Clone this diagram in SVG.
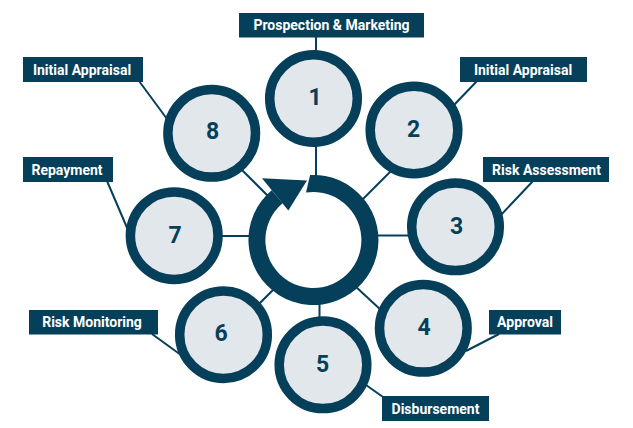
<svg xmlns="http://www.w3.org/2000/svg" width="633" height="428" viewBox="0 0 633 428">
<style>
.ln{stroke:#053f5a;stroke-width:2;fill:none}
.c{fill:#e2e7eb;stroke:#053f5a;stroke-width:9.5}
.n{font-family:Roboto,"Liberation Sans",sans-serif;font-weight:700;font-size:23px;fill:#053f5a;text-anchor:middle}
.lb{fill:#053f5a}
.lt{font-family:Roboto,"Liberation Sans",sans-serif;font-weight:700;font-size:14px;fill:#ffffff;text-anchor:middle}
</style>
<rect width="633" height="428" fill="#ffffff"/>
<g id="connectors">
<line class="ln" x1="316" y1="37" x2="316" y2="55"/>
<line class="ln" x1="139" y1="81" x2="170" y2="123"/>
<line class="ln" x1="477" y1="81" x2="454" y2="105"/>
<line class="ln" x1="533" y1="181" x2="500" y2="216"/>
<line class="ln" x1="499" y1="334" x2="466" y2="351"/>
<line class="ln" x1="366" y1="385" x2="383" y2="397"/>
<line class="ln" x1="152" y1="334" x2="181" y2="355"/>
<line class="ln" x1="107" y1="181" x2="128" y2="230"/>
<line class="ln" x1="316" y1="140" x2="316" y2="178"/>
<line class="ln" x1="363" y1="199" x2="392" y2="170"/>
<line class="ln" x1="374" y1="235.5" x2="410" y2="235.5"/>
<line class="ln" x1="355" y1="286" x2="382" y2="311"/>
<line class="ln" x1="319.5" y1="302" x2="319.5" y2="320"/>
<line class="ln" x1="276" y1="287" x2="254" y2="309"/>
<line class="ln" x1="218" y1="236" x2="252" y2="236"/>
<line class="ln" x1="240" y1="168" x2="268" y2="196"/>
</g>
<g id="cycle">
<path fill="#053f5a" d="M310.1,175.1 A65,65 0 1 1 271.7,190.2 L282.6,203.2 A48,48 0 1 0 306,192.6 Z"/>
<polygon fill="#053f5a" points="262,178.3 307,180.5 288.3,210.5"/>
</g>
<g id="node1"><circle class="c" cx="313.5" cy="98.5" r="43.8"/><text class="n" x="315" y="105">1</text></g>
<g id="node2"><circle class="c" cx="414" cy="130" r="43.8"/><text class="n" x="413.5" y="136.5">2</text></g>
<g id="node3"><circle class="c" cx="455.5" cy="226.8" r="43.8"/><text class="n" x="456.5" y="233.5">3</text></g>
<g id="node4"><circle class="c" cx="423.3" cy="328.3" r="43.8"/><text class="n" x="424" y="335">4</text></g>
<g id="node5"><circle class="c" cx="323" cy="364.8" r="43.8"/><text class="n" x="322.5" y="371.5">5</text></g>
<g id="node6"><circle class="c" cx="223.5" cy="334.7" r="43.8"/><text class="n" x="221" y="340.5">6</text></g>
<g id="node7"><circle class="c" cx="174.2" cy="235.7" r="43.8"/><text class="n" x="175" y="242.5">7</text></g>
<g id="node8"><circle class="c" cx="211.7" cy="133.3" r="43.8"/><text class="n" x="212.5" y="139">8</text></g>
<g id="label1"><rect class="lb" x="239" y="13" width="185" height="24.5"/><text class="lt" x="331.5" y="30">Prospection &amp; Marketing</text></g>
<g id="label8"><rect class="lb" x="23" y="57" width="120" height="25"/><text class="lt" x="82" y="74.5">Initial Appraisal</text></g>
<g id="label2"><rect class="lb" x="460" y="57" width="127" height="25"/><text class="lt" x="523" y="74.5">Initial Appraisal</text></g>
<g id="label7"><rect class="lb" x="23" y="157" width="90" height="25"/><text class="lt" x="67" y="174.5">Repayment</text></g>
<g id="label3"><rect class="lb" x="483" y="157" width="126" height="25"/><text class="lt" x="546.5" y="174.5">Risk Assessment</text></g>
<g id="label6"><rect class="lb" x="29" y="310" width="129" height="24.5"/><text class="lt" x="92" y="327">Risk Monitoring</text></g>
<g id="label4"><rect class="lb" x="489" y="310" width="72" height="24.5"/><text class="lt" x="525" y="327">Approval</text></g>
<g id="label5"><rect class="lb" x="382" y="396" width="107" height="25"/><text class="lt" x="435.5" y="413.5">Disbursement</text></g>
</svg>
